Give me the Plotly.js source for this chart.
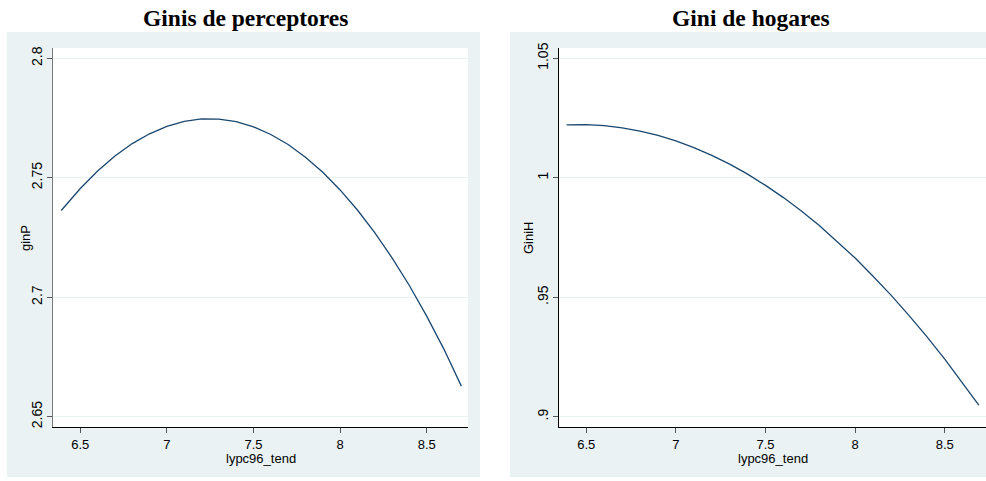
<!DOCTYPE html>
<html>
<head>
<meta charset="utf-8">
<script src="https://cdn.plot.ly/plotly-3.0.1.min.js"></script>
<style>
html,body{margin:0;padding:0;background:#fff;overflow:hidden;width:986px;height:481px;}
#chart{width:1000px;height:481px;}
</style>
</head>
<body>
<div id="chart"></div>
<script>
// Data
const xLeft = [6.39, 6.5, 6.6, 6.7, 6.8, 6.9, 7.0, 7.1, 7.2, 7.3, 7.4, 7.5, 7.6, 7.7, 7.8, 7.9, 8.0, 8.1, 8.2, 8.3, 8.4, 8.5, 8.6, 8.70];
const ginP = [2.7363, 2.7455, 2.7528, 2.7591, 2.7643, 2.7684, 2.7715, 2.7736, 2.7746, 2.7745, 2.7735, 2.7713, 2.7681, 2.7639, 2.7586, 2.7523, 2.7449, 2.7365, 2.7270, 2.7165, 2.7049, 2.6921, 2.6782, 2.6628];
const xRight = [6.39, 6.5, 6.6, 6.7, 6.8, 6.9, 7.0, 7.1, 7.2, 7.3, 7.4, 7.5, 7.6, 7.7, 7.8, 7.9, 8.0, 8.1, 8.2, 8.3, 8.4, 8.5, 8.6, 8.69];
const giniH = [1.0221, 1.0222, 1.0218, 1.0209, 1.0195, 1.0177, 1.0154, 1.0126, 1.0094, 1.0057, 1.0015, 0.9968, 0.9917, 0.9861, 0.9800, 0.9734, 0.9664, 0.9588, 0.9509, 0.9424, 0.9335, 0.9241, 0.9142, 0.9049];

const xTickVals = [6.5, 7, 7.5, 8, 8.5];
const xTickText = ['6.5', '7', '7.5', '8', '8.5'];
const yLeftTickVals = [2.65, 2.7, 2.75, 2.8];
const yLeftTickText = ['2.65', '2.7', '2.75', '2.8'];
const yRightTickVals = [0.9, 0.95, 1.0, 1.05];
const yRightTickText = ['.9', '.95', '1', '1.05'];

const titleLeft = 'Ginis de perceptores';
const titleRight = 'Gini de hogares';
const xTitle = 'lypc96_tend';
const yTitleLeft = 'ginP';
const yTitleRight = 'GiniH';

const W = 1000, H = 481;
const sans = 'Liberation Sans, Arial, sans-serif';
const serif = 'Liberation Serif, Times New Roman, serif';
const lineColor = '#1a476f';
const outerBg = '#eaf2f3';
const gridColor = '#eaf2f3';

const yDom = [(H - 427) / H, (H - 48) / H];

function xaxis(dom, range, anchor) {
  return {
    domain: dom, range: range, anchor: anchor,
    tickvals: xTickVals, ticktext: xTickText,
    showgrid: false, zeroline: false,
    showline: true, linecolor: '#000', linewidth: 1,
    ticks: 'outside', ticklen: 5, tickcolor: '#555', tickwidth: 1,
    tickfont: {family: sans, size: 13, color: '#000'},
    ticklabelstandoff: 0
  };
}
function yaxis(dom, range, anchor, vals, text, lc) {
  return {
    domain: dom, range: range, anchor: anchor,
    tickvals: vals, ticktext: text, tickangle: -90,
    showgrid: true, gridcolor: gridColor, gridwidth: 1,
    zeroline: false,
    showline: true, linecolor: lc, linewidth: 1,
    ticks: 'outside', ticklen: 5, tickcolor: '#555', tickwidth: 1,
    tickfont: {family: sans, size: 14, color: '#000'},
    ticklabelstandoff: -1
  };
}

const traces = [
  {x: xLeft, y: ginP, type: 'scatter', mode: 'lines', line: {color: lineColor, width: 1.3}, xaxis: 'x', yaxis: 'y', showlegend: false, hoverinfo: 'skip'},
  {x: xRight, y: giniH, type: 'scatter', mode: 'lines', line: {color: lineColor, width: 1.3}, xaxis: 'x2', yaxis: 'y2', showlegend: false, hoverinfo: 'skip'}
];

function ann(text, xPx, yPx, font, angle) {
  return {text: text, xref: 'paper', yref: 'paper', x: xPx / W, y: (H - yPx) / H,
          xanchor: 'center', yanchor: 'middle', showarrow: false, textangle: angle || 0, font: font};
}
const titleFont = {family: serif, size: 23.5, color: '#000'};
const axFont = {family: sans, size: 13, color: '#000'};

const layout = {
  width: W, height: H,
  margin: {l: 0, r: 0, t: 0, b: 0},
  paper_bgcolor: '#ffffff', plot_bgcolor: '#ffffff',
  showlegend: false,
  xaxis: xaxis([53 / W, 468 / W], [6.3424, 8.7385], 'y'),
  yaxis: yaxis(yDom, [2.6457, 2.8043], 'x', yLeftTickVals, yLeftTickText, '#7a7a7a'),
  xaxis2: xaxis([558.7 / W, 987.5 / W], [6.346, 8.7385], 'y2'),
  yaxis2: yaxis(yDom, [0.8957, 1.0543], 'x2', yRightTickVals, yRightTickText, '#000'),
  shapes: [
    {type: 'rect', xref: 'paper', yref: 'paper', x0: 7 / W, x1: 480 / W, y0: (H - 477) / H, y1: (H - 32) / H, fillcolor: outerBg, line: {width: 0}, layer: 'below'},
    {type: 'rect', xref: 'paper', yref: 'paper', x0: 510 / W, x1: 1, y0: (H - 477) / H, y1: (H - 32) / H, fillcolor: outerBg, line: {width: 0}, layer: 'below'},
    {type: 'rect', xref: 'x domain', yref: 'y domain', x0: 0, x1: 1, y0: 0, y1: 1, fillcolor: '#ffffff', line: {width: 0}, layer: 'below'},
    {type: 'rect', xref: 'x2 domain', yref: 'y2 domain', x0: 0, x1: 1, y0: 0, y1: 1, fillcolor: '#ffffff', line: {width: 0}, layer: 'below'}
  ],
  annotations: [
    ann('<b>' + titleLeft + '</b>', 245, 18, titleFont),
    ann('<b>' + titleRight + '</b>', 750.5, 18, titleFont),
    ann(xTitle, 260.5, 458, axFont),
    ann(xTitle, 773, 458, axFont),
    ann(yTitleLeft, 25, 238, axFont, -90),
    ann(yTitleRight, 528, 238, axFont, -90)
  ]
};

Plotly.newPlot('chart', traces, layout, {staticPlot: true, displayModeBar: false});
</script>
</body>
</html>
